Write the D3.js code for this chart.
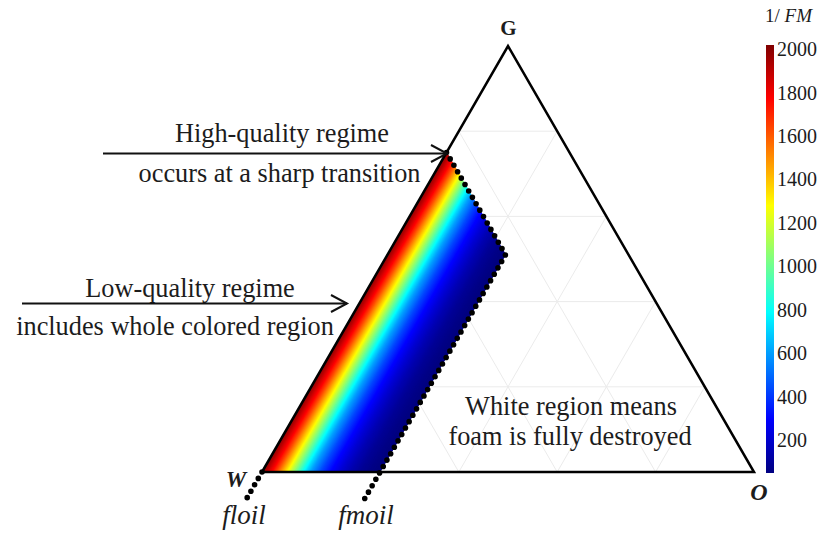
<!DOCTYPE html>
<html>
<head>
<meta charset="utf-8">
<script src="https://cdn.jsdelivr.net/npm/d3@7"></script>
<style>
  body { margin: 0; background: #fff; }
  svg { display: block; }
  text { font-family: "Liberation Serif", "Times New Roman", serif; fill: #1c1c1c; }
</style>
</head>
<body>
<svg id="chart" width="822" height="535"></svg>
<script>
// Foam strength 1/FM over the water (W) – gas (G) – oil (O) ternary diagram

// Oil saturation profile across the foam region and the matching 1/FM values
const oilSat = [0, 0.01, 0.02, 0.03, 0.04, 0.05, 0.06, 0.07, 0.08, 0.09, 0.10, 0.12, 0.14, 0.16, 0.18, 0.20, 0.22, 0.24];
const invFM  = [2000, 1900, 1780, 1640, 1480, 1320, 1160, 1010, 860, 720, 600, 430, 300, 210, 140, 90, 60, 40];

// Oil thresholds and the lower water limit of the foam region
const floil = 0.0;
const fmoil = 0.24;
const waterMin = 0.25;

// Colour bar
const colorTicks = [200, 400, 600, 800, 1000, 1200, 1400, 1600, 1800, 2000];
const colorDomain = [48, 2018];

// Ternary grid fractions
const gridSteps = [0.2, 0.4, 0.6, 0.8];

// Annotation text
const highLines = ["High-quality regime", "occurs at a sharp transition"];
const lowLines = ["Low-quality regime", "includes whole colored region"];
const whiteLines = ["White region means", "foam is fully destroyed"];

const svg = d3.select("#chart");

// gas fraction g and oil fraction o -> pixel position
const xS = d3.scaleLinear().domain([0, 1]).range([262, 754]);
const yS = d3.scaleLinear().domain([0, 1]).range([472, 46]);
const pt = (g, o) => [xS(o + g / 2), yS(g)];

// MATLAB-style jet colour map
const jet = d3.scaleLinear()
  .domain([0, 0.125, 0.375, 0.625, 0.875, 1])
  .range(["#000080", "#0000ff", "#00ffff", "#ffff00", "#ff0000", "#800000"])
  .clamp(true);
const norm = d3.scaleLinear().domain(colorDomain).range([0, 1]).clamp(true);
const colorOf = v => jet(norm(v));

const profile = d3.scaleLinear().domain(oilSat).range(invFM).clamp(true);

// Ternary grid
const grid = svg.append("g").attr("stroke", "#ebebeb").attr("stroke-width", 1).attr("fill", "none");
gridSteps.forEach(s => {
  [[pt(s, 0), pt(s, 1 - s)],
   [pt(0, s), pt(1 - s, s)],
   [pt(0, 1 - s), pt(1 - s, 0)]].forEach(seg => {
    grid.append("line")
      .attr("x1", seg[0][0]).attr("y1", seg[0][1])
      .attr("x2", seg[1][0]).attr("y2", seg[1][1]);
  });
});

// Foam region: strips of constant oil saturation
const nStrips = 300;
const field = svg.append("g");
for (let i = 0; i < nStrips; i++) {
  const t0 = floil + (fmoil - floil) * i / nStrips;
  const t1 = floil + (fmoil - floil) * (i + 1) / nStrips;
  const c = colorOf(profile((t0 + t1) / 2));
  const poly = [pt(0, t0), pt(0, t1), pt(1 - waterMin - t1, t1), pt(1 - waterMin - t0, t0)];
  field.append("polygon")
    .attr("points", poly.map(p => p.join(",")).join(" "))
    .attr("fill", c)
    .attr("stroke", c)
    .attr("stroke-width", 0.6);
}

// Triangle outline
const tri = [pt(0, 0), pt(1, 0), pt(0, 1)];
svg.append("polygon")
  .attr("points", tri.map(p => p.join(",")).join(" "))
  .attr("fill", "none")
  .attr("stroke", "#000")
  .attr("stroke-width", 2.5)
  .attr("stroke-linejoin", "miter");

// Dotted region boundaries and threshold lines
const dotted = d3.line();
const dotStyle = sel => sel.attr("fill", "none").attr("stroke", "#000")
  .attr("stroke-width", 5.6).attr("stroke-linecap", "round")
  .attr("stroke-dasharray", "0 7.4");
svg.append("path")
  .attr("d", dotted([pt(1 - waterMin, 0), pt(1 - waterMin - fmoil, fmoil), pt(0, fmoil), pt(-0.07, fmoil)]))
  .call(dotStyle);
svg.append("path")
  .attr("d", dotted([pt(0, floil), pt(-0.07, floil)]))
  .call(dotStyle);

// Vertex labels
const vtx = [
  { name: "G", x: 508.5, y: 35, italic: false, size: 21 },
  { name: "W", x: 236, y: 487, italic: true, size: 23 },
  { name: "O", x: 759, y: 500, italic: true, size: 24 }
];
vtx.forEach(v => {
  svg.append("text").attr("x", v.x).attr("y", v.y)
    .attr("text-anchor", "middle")
    .attr("font-weight", "bold")
    .attr("font-style", v.italic ? "italic" : "normal")
    .attr("font-size", v.size)
    .attr("fill", "#111")
    .text(v.name);
});

// Threshold labels
[["floil", 244], ["fmoil", 366]].forEach(([s, x]) => {
  svg.append("text").attr("x", x).attr("y", 524)
    .attr("text-anchor", "middle")
    .attr("font-style", "italic")
    .attr("font-size", 27)
    .text(s);
});

// Annotations with arrows
function label(lines, cx, ys) {
  lines.forEach((s, i) => {
    svg.append("text").attr("x", cx[i]).attr("y", ys[i])
      .attr("text-anchor", "middle")
      .attr("font-size", 26.3)
      .text(s);
  });
}
label(highLines, [282, 279.5], [142, 181.5]);
label(lowLines, [190, 175], [296.5, 335]);
label(whiteLines, [571, 570], [415, 445]);

function arrow(x0, x1, y) {
  const g = svg.append("g").attr("stroke", "#111").attr("stroke-width", 2).attr("fill", "none");
  g.append("line").attr("x1", x0).attr("y1", y).attr("x2", x1).attr("y2", y);
  g.append("polyline")
    .attr("points", [[x1 - 16, y - 8.5], [x1, y], [x1 - 16, y + 8.5]].map(p => p.join(",")).join(" "))
    .attr("stroke-linejoin", "miter");
}
arrow(103, 447, 153.5);
arrow(22, 347, 303.5);

// Colour bar
const cbX = 766, cbW = 8;
const cbY = d3.scaleLinear().domain(colorDomain).range([473, 45]);
const defs = svg.append("defs");
const grad = defs.append("linearGradient").attr("id", "cbGrad")
  .attr("x1", 0).attr("y1", 1).attr("x2", 0).attr("y2", 0);
d3.range(0, 1.0001, 0.025).forEach(f => {
  grad.append("stop").attr("offset", f).attr("stop-color", jet(f));
});
svg.append("rect")
  .attr("x", cbX).attr("y", cbY(colorDomain[1]))
  .attr("width", cbW).attr("height", cbY(colorDomain[0]) - cbY(colorDomain[1]))
  .attr("fill", "url(#cbGrad)");

svg.append("g").selectAll("text").data(colorTicks).join("text")
  .attr("x", 777)
  .attr("y", d => cbY(d))
  .attr("dy", "0.36em")
  .attr("font-size", 20)
  .attr("fill", "#333")
  .text(d => d);

const title = svg.append("text").attr("x", 765).attr("y", 22).attr("font-size", 19).attr("fill", "#333");
title.append("tspan").text("1/ ");
title.append("tspan").attr("font-style", "italic").text("FM");
</script>
</body>
</html>
